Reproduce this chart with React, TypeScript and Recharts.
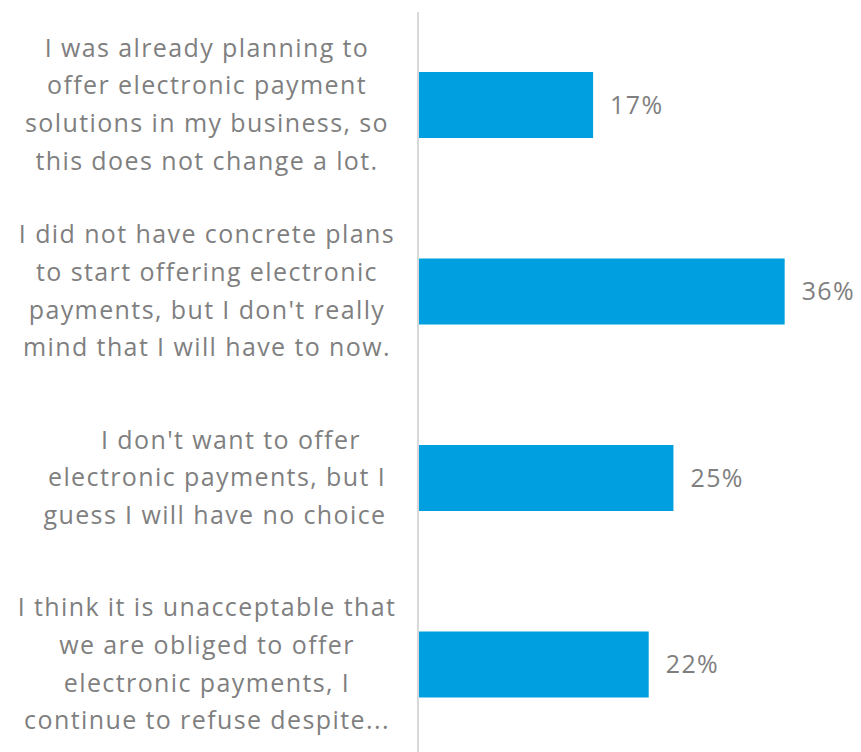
import { BarChart, Bar, XAxis, YAxis, LabelList } from "recharts";

const categories = [
  "I was already planning to offer electronic payment solutions in my business, so this does not change a lot.",
  "I did not have concrete plans to start offering electronic payments, but I don't really mind that I will have to now.",
  "I don't want to offer electronic payments, but I guess I will have no choice",
  "I think it is unacceptable that we are obliged to offer electronic payments, I continue to refuse despite...",
];

// how each category label wraps in the picture
const labelLines = [
  ["I was already planning to", "offer electronic payment", "solutions in my business, so", "this does not change a lot."],
  ["I did not have concrete plans", "to start offering electronic", "payments, but I don't really", "mind that I will have to now."],
  ["I don't want to offer", "electronic payments, but I", "guess I will have no choice"],
  ["I think it is unacceptable that", "we are obliged to offer", "electronic payments, I", "continue to refuse despite..."],
];

const shares = [17.0, 35.6, 24.8, 22.4];

const data = categories.map((name, i) => ({ name, value: shares[i], idx: i }));

const GRAY = "#7f7f7f";
const FONT = "'Open Sans', Lato, sans-serif";
const CX = 207;

// the third label sits a bit to the right in the original (leading spaces)
const lineShift: Record<number, number[]> = { 2: [24, 10, 8] };

function CategoryTick(props: any) {
  const { y, payload } = props;
  const lines = labelLines[payload.index] || [payload.value];
  const shift = lineShift[payload.index] || [];
  const lh = 37.7;
  const start = y - 2 - ((lines.length - 1) * lh) / 2;
  return (
    <text
      x={CX}
      y={start}
      textAnchor="middle"
      fill={GRAY}
      fontSize={25}
      letterSpacing={1.4}
      fontFamily={FONT}
      dominantBaseline="central"
    >
      {lines.map((l: string, i: number) => (
        <tspan key={i} x={CX + (shift[i] || 0)} y={start + i * lh}>
          {l}
        </tspan>
      ))}
    </text>
  );
}

export default function App() {
  return (
    <div style={{ position: "absolute", left: 0, top: 0, width: 861, height: 752, overflow: "hidden", background: "#fff" }}>
      <BarChart
        width={861}
        height={758}
        data={data}
        layout="vertical"
        margin={{ top: 12, right: 31, bottom: 0, left: 0 }}
      >
        <XAxis type="number" domain={[0, 40]} hide />
        <YAxis
          type="category"
          dataKey="name"
          width={418}
          axisLine={{ stroke: "#d9d9d9", strokeWidth: 2 }}
          tickLine={false}
          tick={<CategoryTick />}
        />
        <Bar dataKey="value" fill="#009fdf" barSize={66} isAnimationActive={false}>
          <LabelList
            dataKey="value"
            position="right"
            offset={17}
            fill={GRAY}
            fontSize={25}
            letterSpacing={1.4}
            fontFamily={FONT}
            formatter={(v: any) => `${Math.round(Number(v))}%`}
          />
        </Bar>
      </BarChart>
    </div>
  );
}
